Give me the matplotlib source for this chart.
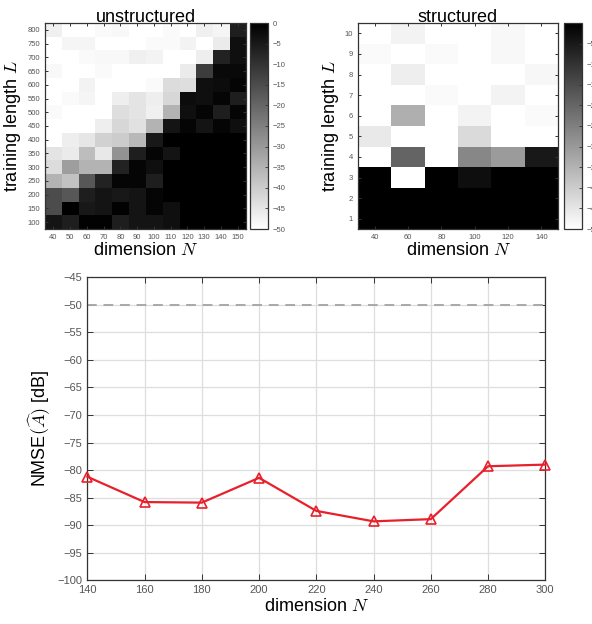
import numpy as np
import matplotlib
matplotlib.use("Agg")
import matplotlib.pyplot as plt

plt.rcParams["font.family"] = ["Liberation Sans", "DejaVu Sans"]
plt.rcParams["mathtext.fontset"] = "cm"

# unstructured: NMSE in dB, rows L = 100..800 (bottom to top), cols N = 40..150
dims_u = [40, 50, 60, 70, 80, 90, 100, 110, 120, 130, 140, 150]
lens_u = [100, 150, 200, 250, 300, 350, 400, 450, 500, 550, 600, 650, 700, 750, 800]
nmse_u = np.array([
    [-4.0, -6.0, -0.6, -0.6, -6.0, -4.0, -4.0, -3.0, 0, 0, 0, 0],            # 100
    [-15.0, 0, -5.0, -4.0, -0.6, -4.0, -1.0, -3.0, 0, 0, 0, 0],              # 150
    [-15.0, -17.0, -6.0, -4.0, -5.0, -4.0, -1.0, 0, 0, 0, 0, 0],             # 200
    [-35.0, -38.0, -17.0, -7.0, -1.0, -1.0, -6.0, 0, 0, 0, 0, 0],            # 250
    [-43.0, -31.0, -35.0, -35.0, -7.0, -1.0, -3.0, 0, 0, 0, 0, 0],           # 300
    [-44.7, -46.0, -37.0, -45.5, -29.0, -6.0, -1.0, -4.0, 0, 0, 0, 0],       # 350
    [-50.0, -46.5, -45.0, -41.0, -40.0, -36.0, -5.0, 0, 0, 0, 0, 0],         # 400
    [-50.0, -50.0, -50.0, -46.5, -42.0, -44.0, -35.0, -4.0, -1.0, -4.0, -1.0, -3.0],  # 450
    [-49.0, -50.0, -50.0, -50.0, -43.5, -44.7, -47.0, -35.0, -3.0, -1.0, -6.0, -1.0],  # 500
    [-50.0, -49.0, -48.0, -50.0, -46.5, -44.7, -46.5, -42.0, -2.4, -3.0, -1.0, -6.0],  # 550
    [-50.0, -50.0, -47.5, -50.0, -50.0, -50.0, -49.0, -43.0, -43.5, -3.0, -2.4, -1.0],  # 600
    [-48.5, -50.0, -50.0, -49.0, -50.0, -50.0, -50.0, -50.0, -46.0, -12.0, -2.0, -2.0],  # 650
    [-50.0, -50.0, -49.0, -48.5, -48.5, -47.0, -47.5, -50.0, -50.0, -46.5, -7.0, -3.0],  # 700
    [-50.0, -48.0, -48.0, -50.0, -50.0, -50.0, -49.0, -49.0, -47.5, -50.0, -46.0, -3.0],  # 750
    [-47.0, -50.0, -50.0, -49.0, -48.5, -50.0, -50.0, -49.0, -50.0, -47.0, -48.0, -6.0],  # 800
])

# structured: rows L = 1..10, cols N = 40..140
dims_s = [40, 60, 80, 100, 120, 140]
lens_s = [1, 2, 3, 4, 5, 6, 7, 8, 9, 10]
nmse_s = np.array([
    [0, 0, 0, 0, 0, 0],                           # 1
    [0, 0, 0, 0, 0, 0],                           # 2
    [0, -50.0, 0, -2.9, 0, 0],                    # 3
    [-50.0, -19.6, -50.0, -26.5, -30.4, -4.9],    # 4
    [-45.7, -50.0, -50.0, -42.7, -50.0, -50.0],   # 5
    [-50.0, -34.3, -50.0, -47.6, -50.0, -49.0],   # 6
    [-50.0, -50.0, -49.0, -50.0, -47.6, -50.0],   # 7
    [-50.0, -46.5, -50.0, -50.0, -50.0, -48.4],   # 8
    [-49.0, -50.0, -49.0, -50.0, -48.6, -50.0],   # 9
    [-50.0, -47.6, -50.0, -50.0, -48.6, -50.0],   # 10
])

# bottom panel
dims_b = [140, 160, 180, 200, 220, 240, 260, 280, 300]
nmse_b = [-81.2, -85.8, -85.9, -81.4, -87.4, -89.3, -88.9, -79.3, -79.0]
ref_level = -50

W, H = 592, 624
fig = plt.figure(figsize=(W / 100, H / 100), dpi=100)

spine_c = "#333333"
tick_c = "#555555"
label_fs = 13


def style_axes(ax, fs):
    for s in ax.spines.values():
        s.set_color(spine_c)
        s.set_linewidth(0.9)
    ax.tick_params(direction="in", top=True, right=True, colors=spine_c,
                   labelcolor=tick_c, labelsize=fs, length=3, width=0.7)


def heatmap(rect, cbrect, data, dims, lens, dx, dy, xticks, yticks, cticks, title):
    ax = fig.add_axes(rect)
    extent = [dims[0] - dx / 2, dims[-1] + dx / 2, lens[0] - dy / 2, lens[-1] + dy / 2]
    im = ax.imshow(data, cmap="gray_r", vmin=-50, vmax=0, origin="lower",
                   extent=extent, aspect="auto", interpolation="nearest")
    ax.set_xticks(xticks)
    ax.set_yticks(yticks)
    style_axes(ax, 5.5)
    ax.tick_params(length=2)
    ax.set_title(title, fontsize=label_fs, pad=1)
    ax.set_xlabel(r"dimension $N$", fontsize=label_fs, labelpad=1)
    ax.set_ylabel(r"training length $L$", fontsize=label_fs, labelpad=3)
    cax = fig.add_axes(cbrect)
    cb = fig.colorbar(im, cax=cax, ticks=cticks)
    cb.outline.set_edgecolor(spine_c)
    cb.outline.set_linewidth(0.9)
    cax.tick_params(direction="in", colors=spine_c, labelcolor=tick_c,
                    labelsize=5.5, length=2, width=0.6)
    return ax


heatmap([45 / W, 1 - 229 / H, 201 / W, 206 / H],
        [250 / W, 1 - 229 / H, 18 / W, 206 / H],
        nmse_u, dims_u, lens_u, 10, 50, dims_u, lens_u,
        list(range(0, -55, -5)), "unstructured")

heatmap([358 / W, 1 - 229 / H, 200 / W, 206 / H],
        [564 / W, 1 - 229 / H, 18 / W, 206 / H],
        nmse_s, dims_s, lens_s, 20, 1, dims_s, lens_s,
        list(range(-5, -55, -5)), "structured")

ax = fig.add_axes([87.3 / W, 1 - 580.3 / H, 458 / W, 303 / H])
ax.grid(True, color="#dedede", linewidth=0.9)
ax.set_axisbelow(True)
ax.axhline(ref_level, color="#a8a8a8", linestyle=(0, (5, 3.5)), linewidth=1.4)
ax.plot(dims_b, nmse_b, color="#e8202a", linewidth=1.6, marker="^",
        markersize=7, markerfacecolor="none", markeredgecolor="#e8202a",
        markeredgewidth=1.2, clip_on=False, zorder=5)
ax.set_xlim(140, 300)
ax.set_ylim(-100, -45)
ax.set_xticks(dims_b)
ax.set_yticks(list(range(-100, -44, 5)))
style_axes(ax, 8)
ax.tick_params(length=4)
ax.set_xlabel(r"dimension $N$", fontsize=label_fs, labelpad=2)
ax.set_ylabel(r"NMSE$(\widehat{A})$ [dB]", fontsize=label_fs, labelpad=4)

fig.savefig("out.png", dpi=100)
